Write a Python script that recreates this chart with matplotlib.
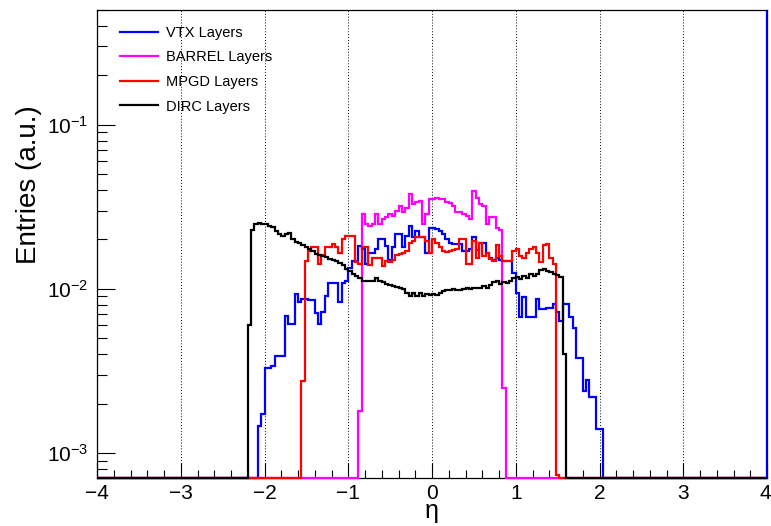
"""
Pseudorapidity coverage of the tracker layers (log-scale step histograms).
"""

import numpy as np
import matplotlib
matplotlib.use('Agg')
import matplotlib.pyplot as plt
from matplotlib.lines import Line2D
from matplotlib.transforms import ScaledTranslation
from matplotlib.ticker import MultipleLocator, LogLocator, NullFormatter

plt.rcParams['font.family'] = ['Liberation Sans', 'DejaVu Sans']
plt.rcParams['mathtext.fontset'] = 'custom'
plt.rcParams['mathtext.rm'] = 'Liberation Sans'
plt.rcParams['mathtext.default'] = 'regular'

# ---------------------------------------------------------------------------
# Data: 200 bins in eta over [-4, 4]; each series lists its non-empty bins
# ---------------------------------------------------------------------------
eta_edges = np.linspace(-4.0, 4.0, 201)
y_min, y_max = 7.05e-4, 0.5

vtx_start = -2.08
vtx = [0.00146, 0.00172, 0.0033, 0.0033, 0.0034, 0.0039, 0.0039, 0.0039,
       0.0068, 0.0061, 0.0061, 0.0093, 0.0083, 0.0087,
       0.0087, 0.0085, 0.0085, 0.0071, 0.0061, 0.0072, 0.0091, 0.0109,
       0.0109, 0.0109, 0.0083, 0.0109, 0.0112, 0.0134, 0.0148, 0.0148,
       0.0183, 0.0175, 0.0141, 0.0166,
       0.0166, 0.0175, 0.0201, 0.0201, 0.0183, 0.015, 0.0179, 0.0216,
       0.0216, 0.0179, 0.021, 0.0242, 0.0206, 0.0226, 0.0206, 0.0206,
       0.0166, 0.0236,
       0.0236, 0.0232, 0.0226, 0.0216, 0.0201, 0.019, 0.0188, 0.0188,
       0.0188, 0.017, 0.017, 0.0175, 0.0206, 0.0172, 0.019, 0.019,
       0.0166, 0.0155, 0.015, 0.0155,
       0.015, 0.0148, 0.0148, 0.0148, 0.0125, 0.0095, 0.0067, 0.0089,
       0.0067, 0.0067, 0.0067, 0.0087, 0.0075, 0.0075, 0.0077, 0.0077,
       0.0081, 0.0072, 0.0064, 0.0081, 0.0081, 0.0067, 0.0058, 0.0038,
       0.0038, 0.0024, 0.0028, 0.0022, 0.0022, 0.0014, 0.0014]

barrel_start = -0.88
barrel = [0.0018, 0.0285, 0.0248, 0.024, 0.0248, 0.0285, 0.0248, 0.0265,
          0.0276, 0.0285, 0.028, 0.0299, 0.0322, 0.0294, 0.031, 0.0378,
          0.033, 0.034, 0.0345, 0.0248, 0.0285, 0.0352, 0.0352,
          0.036, 0.0355, 0.0352, 0.034, 0.0336, 0.0322, 0.0294, 0.0294,
          0.0285, 0.028, 0.0266, 0.0397, 0.036, 0.0328, 0.0322, 0.0248,
          0.0276, 0.0276, 0.0236, 0.023, 0.0025]

mpgd_start = -1.56
mpgd = [0.00275, 0.0148, 0.017, 0.018, 0.018, 0.0141, 0.016, 0.018, 0.018,
        0.0188, 0.018, 0.0166, 0.020, 0.021, 0.021, 0.021, 0.0145, 0.0141,
        0.018, 0.018, 0.014,
        0.0155, 0.0155, 0.0155, 0.0138, 0.0148, 0.0145, 0.015, 0.016,
        0.0163, 0.0166, 0.017, 0.019, 0.0196, 0.0206, 0.0206, 0.0206,
        0.0196, 0.0166,
        0.02, 0.019, 0.0179, 0.017, 0.0168, 0.017, 0.0172, 0.0175, 0.0201,
        0.0201, 0.0141, 0.0141, 0.0196, 0.0155, 0.019, 0.0159, 0.0166,
        0.0152, 0.0148, 0.0184,
        0.0159, 0.0148, 0.0148, 0.0148, 0.017, 0.0175, 0.0159, 0.0155,
        0.0166, 0.0175, 0.0179, 0.0166, 0.0145, 0.0184, 0.0188, 0.0155,
        0.0141, 0.00074]

dirc_start = -2.20
dirc = [0.006, 0.023, 0.025, 0.0252, 0.0248, 0.025, 0.0243, 0.0238, 0.0226,
        0.0215, 0.021, 0.0215, 0.0218, 0.020, 0.0192, 0.019, 0.0186, 0.0179,
        0.0175, 0.017, 0.0164, 0.0161, 0.0159, 0.0156, 0.0153, 0.015, 0.0147,
        0.0144, 0.0139, 0.0133, 0.0129, 0.0124, 0.012, 0.0116, 0.0112,
        0.0111, 0.0112, 0.0111, 0.0117, 0.0112, 0.011, 0.0107, 0.0106,
        0.0104, 0.0103, 0.0101, 0.01, 0.0095, 0.0091, 0.0094, 0.0091,
        0.0094, 0.0091, 0.0093, 0.0092,
        0.0093, 0.0092, 0.0095, 0.0097, 0.0099, 0.0098, 0.01, 0.0099,
        0.0098, 0.01, 0.0101, 0.01, 0.0102, 0.0102, 0.0101, 0.0104,
        0.0102, 0.0106, 0.011, 0.0112, 0.0107, 0.011, 0.0108, 0.0112,
        0.0116, 0.0119, 0.0115, 0.012, 0.0117, 0.0123, 0.012, 0.0124,
        0.013, 0.0132, 0.0129, 0.0126, 0.0124, 0.0121, 0.0119, 0.004]

labels = ['VTX Layers', 'BARREL Layers', 'MPGD Layers', 'DIRC Layers']
colors = ['#0000ff', '#ff00ff', '#ff0000', '#000000']
series = [(vtx_start, vtx), (barrel_start, barrel),
          (mpgd_start, mpgd), (dirc_start, dirc)]


def full_hist(start, vals):
    # empty bins sit on the axis floor, as on a log-scaled ROOT canvas
    h = np.full(len(eta_edges) - 1, y_min)
    i0 = int(round((start - eta_edges[0]) / (eta_edges[1] - eta_edges[0])))
    h[i0:i0 + len(vals)] = vals
    return h


# ---------------------------------------------------------------------------
# Plot
# ---------------------------------------------------------------------------
fig = plt.figure(figsize=(7.71, 5.26), dpi=100)
ax = fig.add_axes([97 / 771, 48 / 526, 670 / 771, 468 / 526])

for (start, vals), col in zip(series, colors):
    ax.stairs(full_hist(start, vals), eta_edges, baseline=None,
              color=col, linewidth=1.6, zorder=3, clip_on=False)

# last VTX bin edge is drawn over the full height
ax.axvline(eta_edges[-1], color=colors[0], linewidth=1.6, zorder=3)

ax.set_xlim(eta_edges[0], eta_edges[-1])
ax.set_yscale('log')
ax.set_ylim(y_min, y_max)

ax.set_xticks(np.arange(-4, 5, 1))
ax.xaxis.set_minor_locator(MultipleLocator(0.2))
ax.yaxis.set_major_locator(LogLocator(base=10, numticks=10))
ax.yaxis.set_minor_locator(LogLocator(base=10, subs=np.arange(2, 10), numticks=20))
ax.yaxis.set_minor_formatter(NullFormatter())

ax.tick_params(axis='both', which='both', direction='in',
               top=False, right=False, colors='black', labelsize=15)
ax.tick_params(axis='x', which='major', length=11, width=0.8, pad=4)
ax.tick_params(axis='x', which='minor', length=6, width=0.8)
ax.tick_params(axis='y', which='major', length=13, width=0.8, pad=6)
ax.tick_params(axis='y', which='minor', length=7, width=0.8)

# keep the right-most eta label inside the canvas
fig.canvas.draw()
last = ax.get_xticklabels()[-1]
last.set_transform(last.get_transform()
                   + ScaledTranslation(-2 / 100, 0, fig.dpi_scale_trans))

ax.grid(axis='x', which='major', linestyle=(0, (1, 2)),
        color='black', linewidth=0.7, zorder=1)

for sp in ax.spines.values():
    sp.set_linewidth(0.9)

fig.text(29 / 771, 1 - 185 / 526, 'Entries (a.u.)', rotation=90,
         ha='center', va='center', fontsize=20)
fig.text(432 / 771, 1 - 511 / 526, 'η', ha='center', va='center', fontsize=18)

handles = [Line2D([], [], color=c, linewidth=1.6) for c in colors]
ax.legend(handles, labels, loc='upper left',
          bbox_to_anchor=(23 / 670, (478 - 26) / 468),
          frameon=False, fontsize=10.5, handlelength=2.6,
          handletextpad=0.55, labelspacing=0.72,
          borderpad=0, borderaxespad=0)

fig.savefig('out.png', dpi=100, facecolor='white')
plt.close(fig)
